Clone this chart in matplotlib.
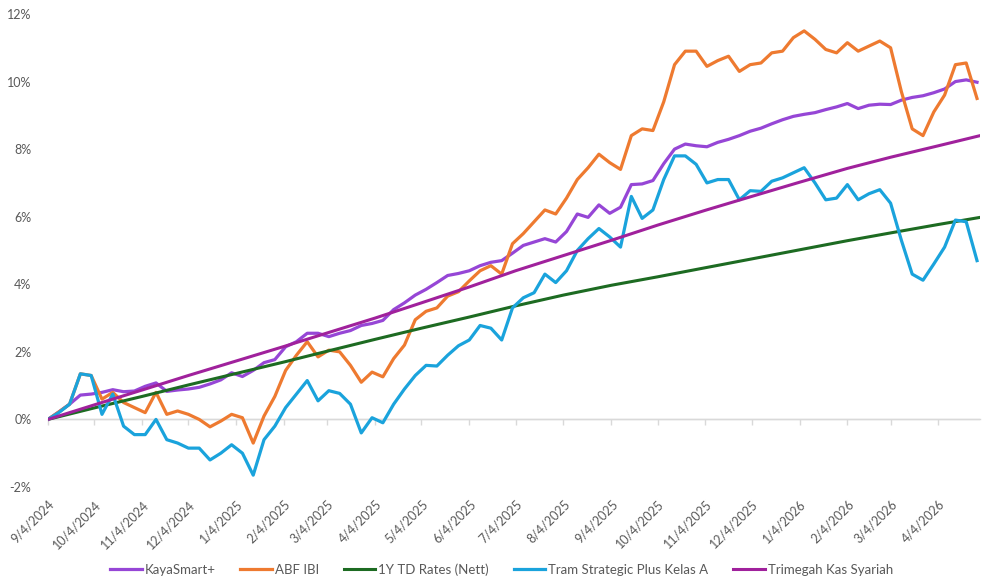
import matplotlib
matplotlib.use("Agg")
import matplotlib.pyplot as plt
import matplotlib.dates as mdates
import pandas as pd

# ---------------- data ----------------
weekly_dates = pd.date_range("2024-09-04", periods=87, freq="7D")

kayasmart = [0.0, 0.22, 0.45, 0.72, 0.75, 0.8, 0.88, 0.82, 0.84, 0.98,
             1.08, 0.83, 0.87, 0.9, 0.95, 1.05, 1.17, 1.38, 1.27, 1.45,
             1.68, 1.77, 2.15, 2.3, 2.55, 2.55, 2.45, 2.55, 2.63, 2.78,
             2.84, 2.93, 3.25, 3.45, 3.68, 3.85, 4.05, 4.26, 4.32, 4.4,
             4.55, 4.65, 4.7, 4.92, 5.15, 5.25, 5.35, 5.25, 5.56, 6.08,
             5.98, 6.35, 6.1, 6.28, 6.95, 6.97, 7.07, 7.57, 8.0, 8.15,
             8.1, 8.07, 8.2, 8.29, 8.4, 8.53, 8.62, 8.75, 8.87, 8.97,
             9.03, 9.08, 9.17, 9.25, 9.35, 9.2, 9.3, 9.33, 9.32, 9.45,
             9.53, 9.58, 9.67, 9.78, 10.0, 10.05, 9.98]

abf_ibi = [0.0, 0.22, 0.45, 1.35, 1.3, 0.6, 0.8, 0.5, 0.35, 0.2,
           0.8, 0.15, 0.25, 0.15, 0.0, -0.22, -0.05, 0.15, 0.05, -0.7,
           0.1, 0.68, 1.45, 1.9, 2.3, 1.85, 2.05, 2.0, 1.6, 1.1,
           1.4, 1.26, 1.8, 2.2, 2.95, 3.2, 3.3, 3.65, 3.78, 4.1,
           4.4, 4.55, 4.3, 5.2, 5.5, 5.85, 6.2, 6.08, 6.55, 7.1,
           7.45, 7.85, 7.6, 7.4, 8.4, 8.6, 8.55, 9.4, 10.5, 10.9,
           10.9, 10.45, 10.62, 10.75, 10.3, 10.5, 10.55, 10.85, 10.9, 11.3,
           11.5, 11.25, 10.95, 10.85, 11.15, 10.9, 11.05, 11.2, 11.0, 9.7,
           8.6, 8.4, 9.1, 9.6, 10.5, 10.55, 9.5]

tram = [0.0, 0.2, 0.45, 1.35, 1.3, 0.15, 0.75, -0.2, -0.45, -0.45,
        0.0, -0.6, -0.7, -0.85, -0.85, -1.2, -1.0, -0.75, -1.0, -1.65,
        -0.6, -0.2, 0.35, 0.75, 1.15, 0.55, 0.85, 0.77, 0.45, -0.4,
        0.05, -0.1, 0.45, 0.9, 1.3, 1.6, 1.58, 1.9, 2.18, 2.35,
        2.78, 2.7, 2.35, 3.3, 3.6, 3.75, 4.3, 4.05, 4.4, 5.0,
        5.35, 5.65, 5.4, 5.1, 6.6, 5.95, 6.2, 7.1, 7.8, 7.8,
        7.55, 7.0, 7.1, 7.1, 6.5, 6.77, 6.75, 7.05, 7.15, 7.3,
        7.45, 7.0, 6.5, 6.55, 6.95, 6.5, 6.68, 6.8, 6.4, 5.3,
        4.3, 4.12, 4.6, 5.1, 5.9, 5.85, 4.7]

monthly_dates = pd.to_datetime([
    "2024-09-04", "2024-10-04", "2024-11-04", "2024-12-04", "2025-01-04",
    "2025-02-04", "2025-03-04", "2025-04-04", "2025-05-04", "2025-06-04",
    "2025-07-04", "2025-08-04", "2025-09-04", "2025-10-04", "2025-11-04",
    "2025-12-04", "2026-01-04", "2026-02-04", "2026-03-04", "2026-04-04",
    "2026-05-01"])

td_rates = [0.0, 0.34, 0.68, 1.02, 1.36, 1.7, 2.02, 2.37, 2.7, 3.03,
            3.36, 3.68, 3.97, 4.22, 4.49, 4.75, 5.02, 5.29, 5.52, 5.77, 5.98]

trimegah = [0.0, 0.43, 0.87, 1.3, 1.73, 2.16, 2.56, 3.0, 3.45, 3.92,
            4.4, 4.85, 5.3, 5.75, 6.19, 6.6, 7.02, 7.43, 7.76, 8.1, 8.4]

tick_dates = monthly_dates[:-1]
tick_labels = [f"{d.month}/{d.day}/{d.year}" for d in tick_dates]
y_ticks = [-2, 0, 2, 4, 6, 8, 10, 12]

# ---------------- plot ----------------
plt.rcParams["font.family"] = ["Lato", "DejaVu Sans"]
fig = plt.figure(figsize=(9.89, 5.83), dpi=100)
ax = fig.add_axes([0.0485, 0.1647, 0.9425, 0.8113])

txt = "#595959"
ax.plot(weekly_dates, kayasmart, color="#9646d6", lw=2.3, label="KayaSmart+", solid_joinstyle="round")
ax.plot(weekly_dates, abf_ibi, color="#ee7a30", lw=2.3, label="ABF IBI", solid_joinstyle="round")
ax.plot(monthly_dates, td_rates, color="#1d6b22", lw=2.2, label="1Y TD Rates (Nett)")
ax.plot(weekly_dates, tram, color="#1aa3dc", lw=2.3, label="Tram Strategic Plus Kelas A", solid_joinstyle="round")
ax.plot(monthly_dates, trimegah, color="#a0219c", lw=2.2, label="Trimegah Kas Syariah")

ax.set_xlim(pd.Timestamp("2024-09-04"), pd.Timestamp("2026-05-01"))
ax.set_ylim(-2, 12)
ax.set_yticks(y_ticks)
ax.set_yticklabels([f"{v}%" for v in y_ticks], color=txt, fontsize=9)
ax.tick_params(axis="y", length=0, pad=12)

ax.set_xticks(tick_dates)
ax.set_xticklabels(tick_labels, rotation=45, ha="right", rotation_mode="anchor",
                   color=txt, fontsize=9)
ax.tick_params(axis="x", length=0, pad=8)

for s in ax.spines.values():
    s.set_visible(False)

# zero axis line with tick marks
sec = ax.secondary_xaxis(2 / 14)
sec.set_xticks(tick_dates)
sec.set_xticklabels([])
sec.tick_params(axis="x", length=4, width=1, color="#d9d9d9", direction="out")
sec.spines["bottom"].set_color("#d9d9d9")
sec.spines["bottom"].set_linewidth(1)
ax.axhline(0, color="#d9d9d9", lw=1, zorder=0)

fig.legend(loc="lower center", bbox_to_anchor=(0.507, -0.008), ncol=5, frameon=False,
           fontsize=9.5, handlelength=2.4, handletextpad=0.2, columnspacing=1.9,
           labelcolor=txt)

fig.savefig("out.png", dpi=100, facecolor="white")
